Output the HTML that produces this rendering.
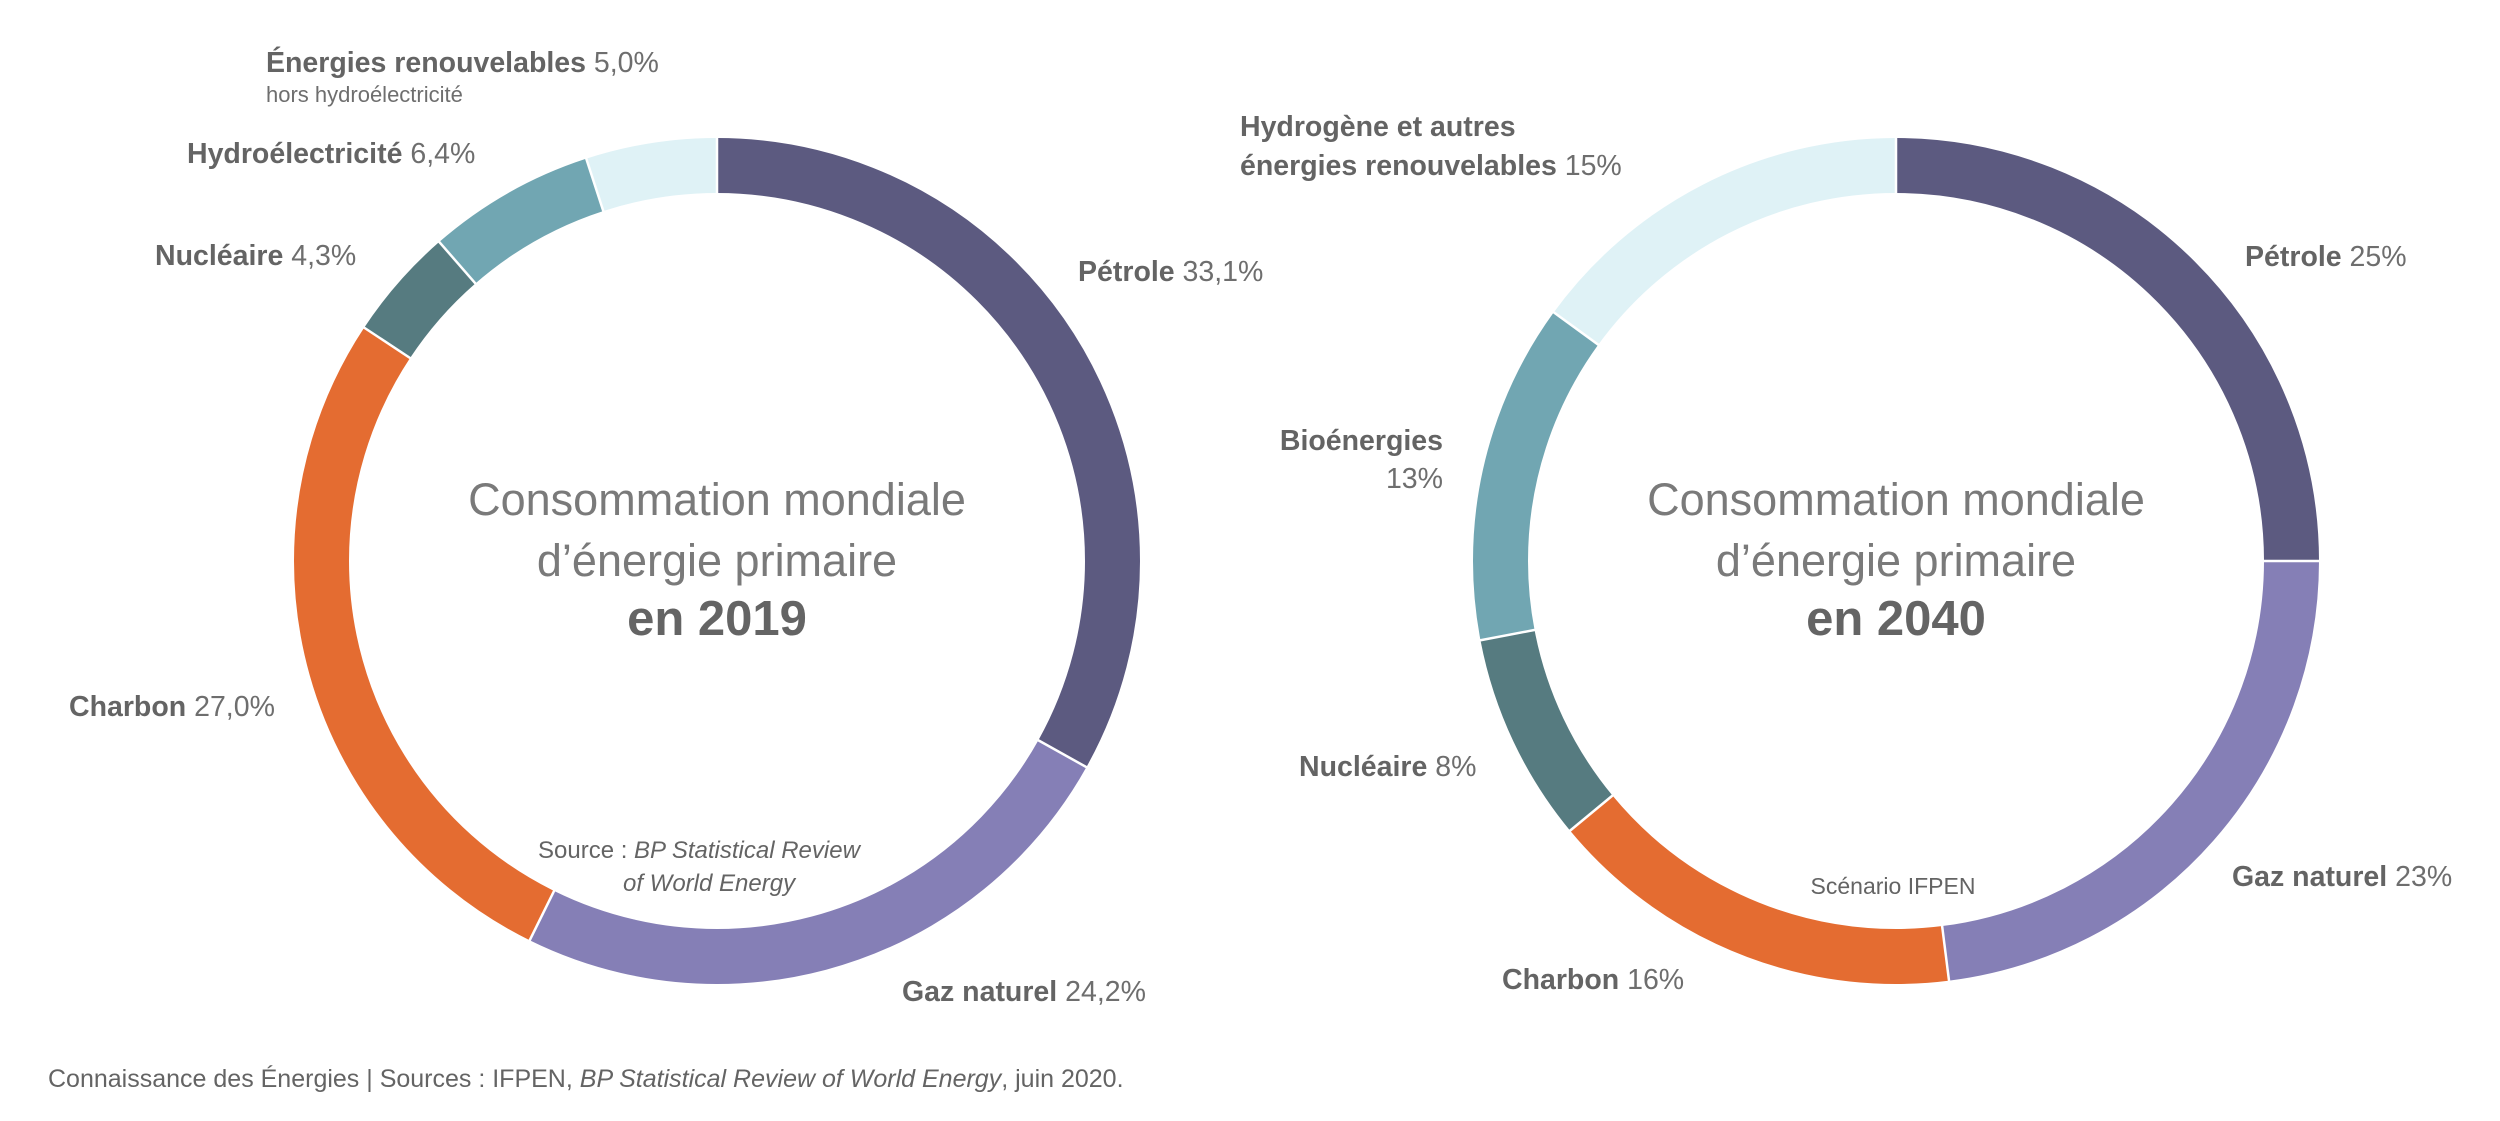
<!DOCTYPE html>
<html><head><meta charset="utf-8"><style>
html,body{margin:0;padding:0;background:#fff;}
svg{display:block;}
text{font-family:"Liberation Sans",sans-serif;fill:#646464;}
.b{font-weight:bold;}
.l{fill:#6e6e6e;}
.c{fill:#7a7a7a;}
</style></head><body>
<svg width="2500" height="1121" viewBox="0 0 2500 1121" xmlns="http://www.w3.org/2000/svg">
<g fill="none" stroke-width="55">
 <g transform="rotate(-90 717 561)">
  <circle cx="717" cy="561" r="395.5" pathLength="100" stroke="#5c5a80" stroke-dasharray="33.1 100" stroke-dashoffset="0"/>
  <circle cx="717" cy="561" r="395.5" pathLength="100" stroke="#857fb6" stroke-dasharray="24.2 100" stroke-dashoffset="-33.1"/>
  <circle cx="717" cy="561" r="395.5" pathLength="100" stroke="#e46c31" stroke-dasharray="27 100" stroke-dashoffset="-57.3"/>
  <circle cx="717" cy="561" r="395.5" pathLength="100" stroke="#567b80" stroke-dasharray="4.3 100" stroke-dashoffset="-84.3"/>
  <circle cx="717" cy="561" r="395.5" pathLength="100" stroke="#71a6b2" stroke-dasharray="6.4 100" stroke-dashoffset="-88.6"/>
  <circle cx="717" cy="561" r="395.5" pathLength="100" stroke="#dff2f6" stroke-dasharray="5.0 100" stroke-dashoffset="-95"/>
 </g>
 <g transform="rotate(-90 1896 561)">
  <circle cx="1896" cy="561" r="395.5" pathLength="100" stroke="#5c5a80" stroke-dasharray="25 100" stroke-dashoffset="0"/>
  <circle cx="1896" cy="561" r="395.5" pathLength="100" stroke="#857fb6" stroke-dasharray="23 100" stroke-dashoffset="-25"/>
  <circle cx="1896" cy="561" r="395.5" pathLength="100" stroke="#e46c31" stroke-dasharray="16 100" stroke-dashoffset="-48"/>
  <circle cx="1896" cy="561" r="395.5" pathLength="100" stroke="#567b80" stroke-dasharray="8 100" stroke-dashoffset="-64"/>
  <circle cx="1896" cy="561" r="395.5" pathLength="100" stroke="#71a6b2" stroke-dasharray="13 100" stroke-dashoffset="-72"/>
  <circle cx="1896" cy="561" r="395.5" pathLength="100" stroke="#dff2f6" stroke-dasharray="15 100" stroke-dashoffset="-85"/>
 </g>
</g>
<g stroke="#fff" stroke-width="2.5">
 <line x1="717" y1="130" x2="717" y2="200" transform="rotate(0 717 561)"/>
 <line x1="717" y1="130" x2="717" y2="200" transform="rotate(119.16 717 561)"/>
 <line x1="717" y1="130" x2="717" y2="200" transform="rotate(206.28 717 561)"/>
 <line x1="717" y1="130" x2="717" y2="200" transform="rotate(303.48 717 561)"/>
 <line x1="717" y1="130" x2="717" y2="200" transform="rotate(318.96 717 561)"/>
 <line x1="717" y1="130" x2="717" y2="200" transform="rotate(342 717 561)"/>
 <line x1="1896" y1="130" x2="1896" y2="200" transform="rotate(0 1896 561)"/>
 <line x1="1896" y1="130" x2="1896" y2="200" transform="rotate(90 1896 561)"/>
 <line x1="1896" y1="130" x2="1896" y2="200" transform="rotate(172.8 1896 561)"/>
 <line x1="1896" y1="130" x2="1896" y2="200" transform="rotate(230.4 1896 561)"/>
 <line x1="1896" y1="130" x2="1896" y2="200" transform="rotate(259.2 1896 561)"/>
 <line x1="1896" y1="130" x2="1896" y2="200" transform="rotate(306 1896 561)"/>
</g>

<g font-size="28.5">
<text x="266" y="72"><tspan class="b">Énergies renouvelables</tspan> <tspan class="l">5,0%</tspan></text>
<text x="266" y="102" font-size="22" class="l">hors hydroélectricité</text>
<text x="187" y="163"><tspan class="b">Hydroélectricité</tspan> <tspan class="l">6,4%</tspan></text>
<text x="155" y="265"><tspan class="b">Nucléaire</tspan> <tspan class="l">4,3%</tspan></text>
<text x="1078" y="281"><tspan class="b">Pétrole</tspan> <tspan class="l">33,1%</tspan></text>
<text x="69" y="716"><tspan class="b">Charbon</tspan> <tspan class="l">27,0%</tspan></text>
<text x="902" y="1001"><tspan class="b">Gaz naturel</tspan> <tspan class="l">24,2%</tspan></text>
</g>
<g text-anchor="middle">
<text x="717" y="515" font-size="45" class="c">Consommation mondiale</text>
<text x="717" y="576" font-size="45" class="c">d’énergie primaire</text>
<text x="717" y="635" font-size="49" class="b">en 2019</text>
<text x="1896" y="515" font-size="45" class="c">Consommation mondiale</text>
<text x="1896" y="576" font-size="45" class="c">d’énergie primaire</text>
<text x="1896" y="635" font-size="49" class="b">en 2040</text>
</g>
<text x="538" y="858" font-size="24">Source : <tspan font-style="italic">BP Statistical Review</tspan></text>
<text x="623" y="891" font-size="24" font-style="italic">of World Energy</text>

<g font-size="28.5">
<text x="1240" y="136" class="b">Hydrogène et autres</text>
<text x="1240" y="175"><tspan class="b">énergies renouvelables</tspan> <tspan class="l">15%</tspan></text>
<text x="2245" y="266"><tspan class="b">Pétrole</tspan> <tspan class="l">25%</tspan></text>
<text x="1443" y="450" text-anchor="end" class="b">Bioénergies</text>
<text x="1443" y="488" text-anchor="end" class="l">13%</text>
<text x="1299" y="776"><tspan class="b">Nucléaire</tspan> <tspan class="l">8%</tspan></text>
<text x="2232" y="886"><tspan class="b">Gaz naturel</tspan> <tspan class="l">23%</tspan></text>
<text x="1502" y="989"><tspan class="b">Charbon</tspan> <tspan class="l">16%</tspan></text>
</g>
<text x="1893" y="894" font-size="23" text-anchor="middle">Scénario IFPEN</text>

<text x="48" y="1087" font-size="25">Connaissance des Énergies | Sources : IFPEN, <tspan font-style="italic">BP Statistical Review of World Energy</tspan>, juin 2020.</text>
</svg>
</body></html>
